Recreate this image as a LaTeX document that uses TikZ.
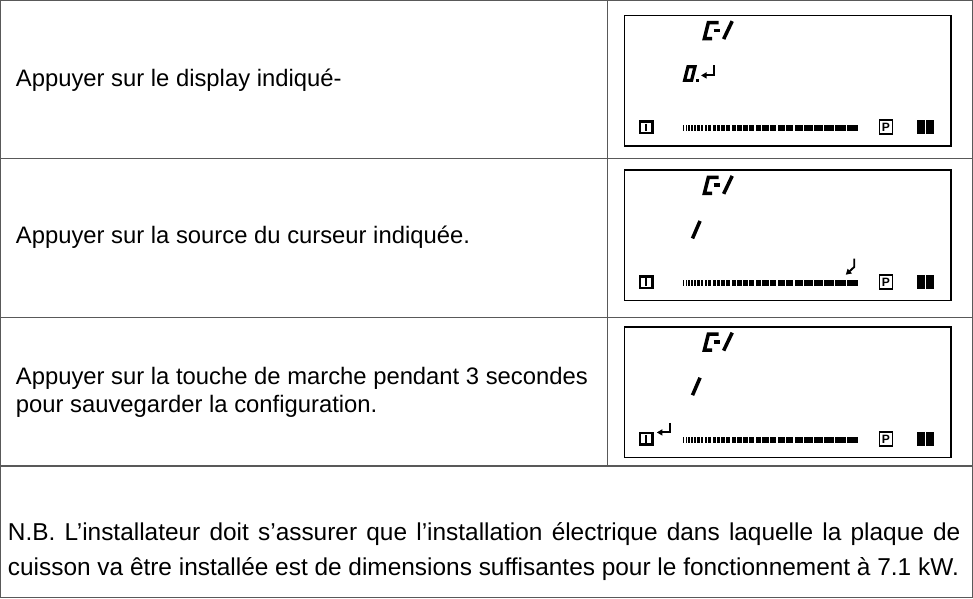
\documentclass[tikz,border=0pt]{standalone}
\usepackage{fontspec}
\setmainfont{Liberation Sans}
\usetikzlibrary{arrows.meta}

% the little LCD panel shown in each step
\tikzset{
  pics/lcdpanel/.style={code={
    % C-1 code at the top
    \draw[segm, line join=miter] (94.5,8.5) -- (84.3,8.5) -- (80.3,26) -- (88,26);
    \draw[segm] (89.5,17) -- (95.5,17);
    \draw[segm] (99.5,26.5) -- (108,7);
    % power bar
    \foreach \i in {0,...,27}{
      \pgfmathsetmacro\xa{59+2.56*(1.06^\i-1)/0.06}
      \pgfmathsetmacro\xb{59+2.56*(1.06^(\i+1)-1)/0.06-1.1}
      \fill (\xa,120) rectangle (\xb,127);
    }
    % keys
    \draw[line width=2.6pt] (16.3,116.3) rectangle (28.7,128.7);
    \draw[line width=2.2pt] (22.5,118.5) -- (22.5,126.5);
    \node[keylabel] (-pkey) at (261,122.5) {P};
    \fill (292,115) rectangle (308.5,130);
    \draw[white, line width=0.9pt] (300.2,115) -- (300.2,130);
  }}
}

\begin{document}
\begin{tikzpicture}[x=1pt, y=-1pt, >={Triangle[length=5.5pt,width=6pt]},
  rule/.style={draw=black!65, line width=1.3pt},
  cell/.style={anchor=west, align=left, inner sep=0pt, font=\fontsize{23.7}{28}\selectfont},
  lcd/.style={draw, line width=1.3pt, anchor=north west, inner sep=0pt,
    minimum width=325pt, minimum height=130pt},
  inlcd/.style={shift={(#1.north west)}, yscale=0.915},
  segm/.style={line width=3.5pt},
  keylabel/.style={draw, line width=1.8pt, inner sep=0pt, minimum width=13pt, minimum height=14pt,
    font=\fontsize{12}{12}\selectfont\bfseries},
  cue/.style={->, line width=1.9pt}]

% table frame
\draw[rule] (3,3) rectangle (970,597);
\draw[rule] (3,160) -- (970,160);
\draw[rule] (3,318) -- (970,318);
\draw[rule] (3,466) -- (970,466);
\draw[rule] (607,3) -- (607,466);

% step 1
\node[cell] (t1) at (18,82) {Appuyer sur le display indiqué-};
\node[lcd] (d1) at (623,17) {};
\pic[inlcd=d1] (s1) {lcdpanel};
\begin{scope}[inlcd=d1]
\draw[line width=3.2pt, line join=miter] (60.6,71.4) -- (64,56.6) -- (71,56.6) -- (67.6,71.4) -- cycle;
\fill (71.5,70) rectangle (74.5,73);
\coordinate (r1a) at (89.5,55);
\coordinate (r1b) at (89.5,66);
\coordinate (r1c) at (77,66);
\end{scope}
\draw[cue] (r1a) -- (r1b) -- (r1c);

% step 2
\node[cell] (t2) at (18,238) {Appuyer sur la source du curseur indiquée.};
\node[lcd] (d2) at (623,171) {};
\pic[inlcd=d2] (s2) {lcdpanel};
\begin{scope}[inlcd=d2]
\draw[segm] (68.5,75) -- (76,56);
\coordinate (r2a) at (229.5,97);
\coordinate (r2b) at (229.5,106);
\coordinate (r2c) at (221,114.5);
\end{scope}
\draw[cue] (r2a) -- (r2b) -- (r2c);

% step 3
\node[cell] (t3) at (18,393) {Appuyer sur la touche de marche pendant 3 secondes\\pour sauvegarder la configuration.};
\node[lcd] (d3) at (623,327) {};
\pic[inlcd=d3] (s3) {lcdpanel};
\begin{scope}[inlcd=d3]
\draw[segm] (68.5,75) -- (76,56);
\coordinate (r3a) at (46,105);
\coordinate (r3b) at (46,115.5);
\coordinate (r3c) at (33,115.5);
\end{scope}
\draw[cue] (r3a) -- (r3b) -- (r3c);

% note
\node[cell, text width=948pt, align=justify, font=\fontsize{24.3}{35}\selectfont] (nb) at (10,551) {N.B. L’installateur doit s’assurer que l’installation électrique dans laquelle la plaque de\linebreak cuisson va être installée est de dimensions suffisantes pour le fonctionnement à 7.1 kW.};
\end{tikzpicture}
\end{document}
